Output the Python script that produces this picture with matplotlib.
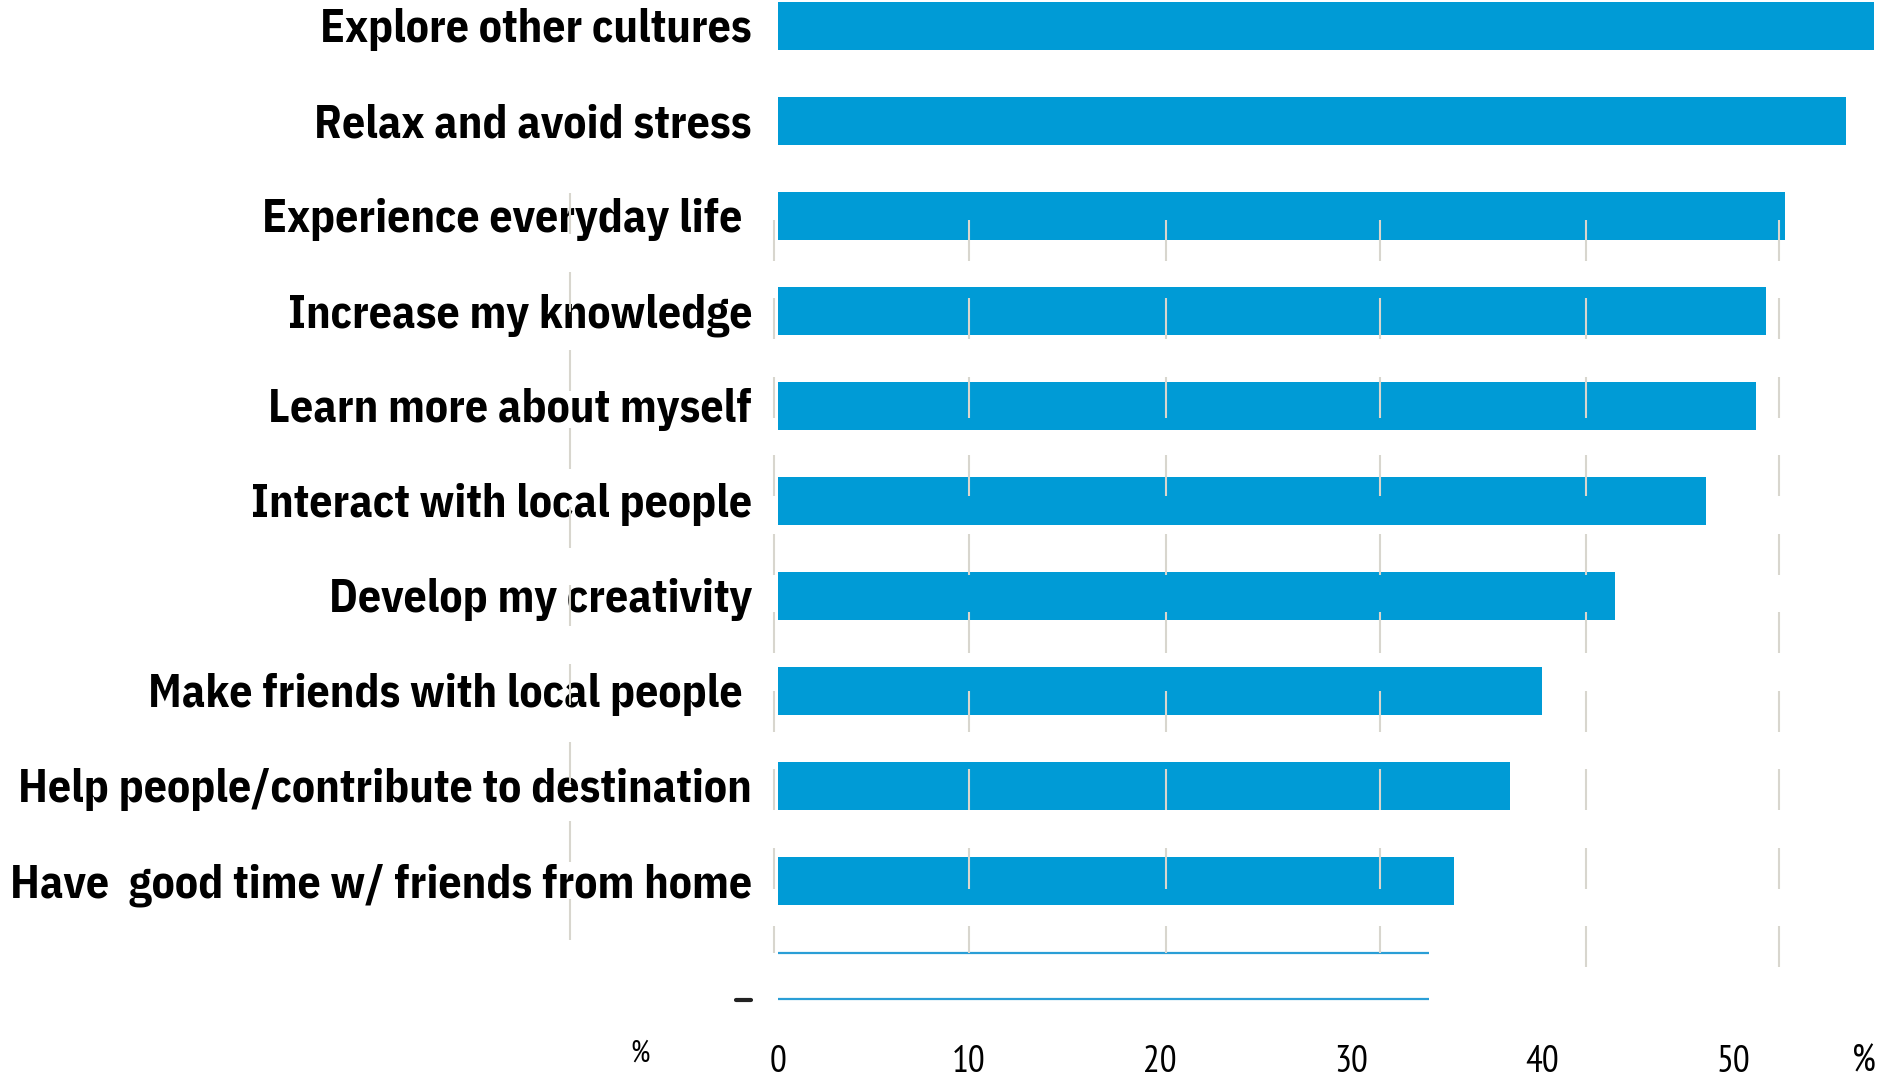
import numpy as np
import matplotlib.pyplot as plt

# — DATA —
categories = [
    "Explore other cultures",
    "Relax and avoid stress",
    "Experience everyday life ",
    "Increase my knowledge",
    "Learn more about myself",
    "Interact with local people",
    "Develop my creativity",
    "Make friends with local people ",
    "Help people/contribute to destination",
    "Have  good time w/ friends from home",
]
values      = [57.4, 55.9, 52.7, 51.7, 51.2, 48.6, 43.8, 40.0, 38.3, 35.4]
blank_value = 34.1          # unlabelled 11th bar, only its edges show
tick_values = [0, 10, 20, 30, 40, 50]

# — LAYOUT —
W, H, DPI   = 1879, 1077, 100
BLUE        = "#009bd6"
GRID_C      = "#d8d6ce"
LABEL_FONT  = ["IBM Plex Sans Condensed", "DejaVu Sans"]
TICK_FONT   = ["PT Sans Narrow", "DejaVu Sans"]
BAR_H       = 0.5
GRID_X      = [-0.2, 10.0, 20.3, 31.5, 42.3, 52.4]   # broken gridlines
LEFT_GRID_X = -10.9
SEG_PITCH, SEG_LEN = 0.826, 0.43
LONGEST_PX  = 741           # width of the longest label in the reference


def dashes(ax, x, y0, y_end, n=10):
    """Short vertical segments, the broken gridline look."""
    for k in range(n):
        a = y0 + k * SEG_PITCH
        b = min(a + SEG_LEN, y_end)
        if b > a:
            ax.vlines(x, a, b, color=GRID_C, lw=1.5, zorder=3)


def main():
    fig = plt.figure(figsize=(W / DPI, H / DPI), dpi=DPI)
    ax = fig.add_axes([0, 0, 1, 1])
    ax.set_xlim(-40.73, 57.64)
    ax.set_ylim(11.063, -0.274)
    for s in ax.spines.values():
        s.set_visible(False)

    y = np.arange(len(categories))
    ax.barh(y, values, height=BAR_H, color=BLUE, zorder=2)

    # 11th bar drawn as two thin lines only
    yb = len(categories)
    ax.hlines([yb - 0.24, yb + 0.24], 0, blank_value, color="#2a9ed6", lw=1.6, zorder=2)

    # category labels, sized so the longest one matches the reference width
    texts = [ax.text(-1.36, i + 0.17, c, ha="right", va="baseline",
                     fontsize=31, fontweight="bold", family=LABEL_FONT)
             for i, c in enumerate(categories)]
    r = fig.canvas.get_renderer()
    wmax = max(t.get_window_extent(r).width for t in texts)
    for t in texts:
        t.set_fontsize(31 * LONGEST_PX / wmax)

    # gridline pieces
    for j, gx in enumerate(GRID_X):
        dashes(ax, gx, 2.042, 9.76 if j < 4 else 9.9)
    dashes(ax, LEFT_GRID_X, 1.758, 11)

    # small dark smudge left of the blank bar
    ax.plot([-2.2, -1.4], [10.25, 10.25], color="#222222", lw=3,
            solid_capstyle="round", zorder=3)

    # x axis labels drawn inside the axes
    ax.set_yticks([])
    ax.set_xticks(tick_values)
    ax.set_xticklabels([str(v) for v in tick_values])
    ax.tick_params(axis="x", direction="in", length=0, pad=-23,
                   labelsize=27)
    for t in ax.get_xticklabels():
        t.set_family(TICK_FONT)
    xt = ax.get_xaxis_transform()
    ax.text(-7.2, 0.022, "%", transform=xt, ha="center", va="center",
            fontsize=22, family=TICK_FONT)
    ax.text(56.86, 0.014, "%", transform=xt, ha="center", va="center",
            fontsize=27, family=TICK_FONT)

    fig.savefig("out.png", dpi=DPI)


if __name__ == "__main__":
    main()
